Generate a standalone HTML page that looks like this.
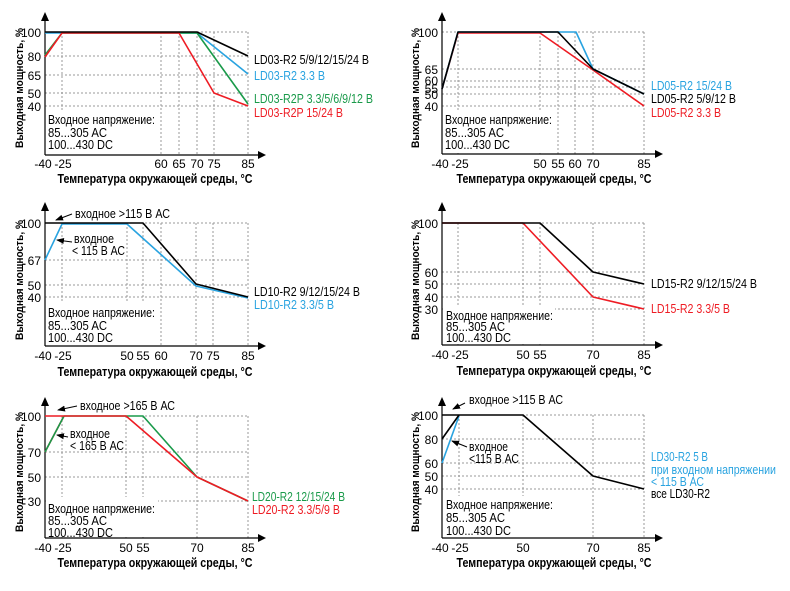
<!DOCTYPE html>
<html><head><meta charset="utf-8"><style>
html,body{margin:0;padding:0;background:#fff}
svg text{font-family:"Liberation Sans",Arial,sans-serif;font-size:12.5px}
.g{stroke:#999;stroke-width:1;stroke-dasharray:2,2;fill:none}
.ax{stroke:#000;stroke-width:1.2}
.l{fill:none;stroke-width:1.6;stroke-linejoin:round}
.yl{text-anchor:end;font-size:12px !important}
.xl{text-anchor:middle;font-size:12px !important}
.tt{text-anchor:middle;font-weight:bold}
.yt{text-anchor:middle;font-weight:bold;font-size:11px !important}
</style></head><body>
<svg width="790" height="586" viewBox="0 0 790 586" xmlns="http://www.w3.org/2000/svg">
<defs><marker id="ar" markerWidth="8" markerHeight="8" refX="7" refY="4" orient="auto"><path d="M0,1 L8,4 L0,7z" fill="#000"/></marker></defs>

<!-- Panel 1 -->
<g transform="translate(0,0)">
<path class="g" d="M45,32H248M45,56H248M45,75H248M45,93H248M45,106H248M62,32V155M161,32V155M179,32V155M197,32V155M214,32V155M248,32V155"/>
<rect x="46" y="112" width="112" height="42" fill="#fff"/>
<path class="ax" d="M45,155V20M45,155H260"/>
<path d="M41,21L45,12L49,21z M258,151L266,155L258,159z" fill="#000"/>
<polyline class="l" stroke="#29a3e0" points="45,33 197,33 248,74"/>
<polyline class="l" stroke="#1a9a4a" points="45,55 62,33 197,33 248,104"/>
<polyline class="l" stroke="#ee1c24" points="45,57 62,33 179,33 214,93 248,106"/>
<polyline class="l" stroke="#000" points="45,32 197,32 248,56"/>
<text class="yl" x="41" y="37">100</text><text class="yl" x="41" y="61">80</text><text class="yl" x="41" y="80">65</text><text class="yl" x="41" y="98">50</text><text class="yl" x="41" y="111">40</text>
<text class="xl" x="43" y="168">-40</text><text class="xl" x="63" y="168">-25</text><text class="xl" x="161" y="168">60</text><text class="xl" x="179" y="168">65</text><text class="xl" x="197" y="168">70</text><text class="xl" x="214" y="168">75</text><text class="xl" x="248" y="168">85</text>
<text class="tt" x="155" y="183" textLength="195" lengthAdjust="spacingAndGlyphs">Температура окружающей среды, °С</text>
<text class="yt" transform="translate(23,88) rotate(-90)" textLength="120" lengthAdjust="spacingAndGlyphs">Выходная мощность, %</text>
<text x="48" y="124" textLength="107" lengthAdjust="spacingAndGlyphs">Входное напряжение:</text><text x="48" y="137" textLength="59" lengthAdjust="spacingAndGlyphs">85...305  AC</text><text x="48" y="149" textLength="65" lengthAdjust="spacingAndGlyphs">100...430  DC</text>
<text x="254" y="64" textLength="115" lengthAdjust="spacingAndGlyphs">LD03-R2 5/9/12/15/24 В</text>
<text x="254" y="80" fill="#29a3e0" textLength="71" lengthAdjust="spacingAndGlyphs">LD03-R2 3.3 В</text>
<text x="254" y="103" fill="#1a9a4a" textLength="119" lengthAdjust="spacingAndGlyphs">LD03-R2P 3.3/5/6/9/12 В</text>
<text x="254" y="117" fill="#ee1c24" textLength="89" lengthAdjust="spacingAndGlyphs">LD03-R2P 15/24 В</text>
</g>

<!-- Panel 2 -->
<g transform="translate(395,0)">
<path class="g" d="M47,32H249M47,69H249M47,81H249M47,87H249M47,94H249M47,106H249M63,32V154M145,32V154M163,32V154M180,32V154M198,32V154M249,32V154"/>
<rect x="48" y="112" width="112" height="41" fill="#fff"/>
<path class="ax" d="M47,154V20M47,154H262"/>
<path d="M43,21L47,12L51,21z M260,150L268,154L260,158z" fill="#000"/>
<polyline class="l" stroke="#ee1c24" points="47,89 63,33 145,33 198,70 249,106"/>
<polyline class="l" stroke="#29a3e0" points="47,89 63,32 181,32 198,69 249,94"/>
<polyline class="l" stroke="#000" points="47,89 63,32 163,32 198,69 249,94"/>
<text class="yl" x="43" y="37">100</text><text class="yl" x="43" y="74">65</text><text class="yl" x="43" y="85">60</text><text class="yl" x="43" y="93">55</text><text class="yl" x="43" y="99">50</text><text class="yl" x="43" y="111">40</text>
<text class="xl" x="45" y="168">-40</text><text class="xl" x="65" y="168">-25</text><text class="xl" x="145" y="168">50</text><text class="xl" x="163" y="168">55</text><text class="xl" x="180" y="168">60</text><text class="xl" x="198" y="168">70</text><text class="xl" x="249" y="168">85</text>
<text class="tt" x="159" y="183" textLength="195" lengthAdjust="spacingAndGlyphs">Температура окружающей среды, °С</text>
<text class="yt" transform="translate(24,88) rotate(-90)" textLength="120" lengthAdjust="spacingAndGlyphs">Выходная мощность, %</text>
<text x="50" y="124" textLength="107" lengthAdjust="spacingAndGlyphs">Входное напряжение:</text><text x="50" y="137" textLength="59" lengthAdjust="spacingAndGlyphs">85...305  AC</text><text x="50" y="149" textLength="65" lengthAdjust="spacingAndGlyphs">100...430  DC</text>
<text x="256" y="90" fill="#29a3e0" textLength="81" lengthAdjust="spacingAndGlyphs">LD05-R2 15/24 В</text>
<text x="256" y="103" textLength="85" lengthAdjust="spacingAndGlyphs">LD05-R2 5/9/12 В</text>
<text x="256" y="117" fill="#ee1c24" textLength="70" lengthAdjust="spacingAndGlyphs">LD05-R2 3.3 В</text>
</g>

<!-- Panel 3 -->
<g transform="translate(0,190)">
<path class="g" d="M45,33H248M45,70H248M45,95H248M45,107H248M62,33V156M127,33V156M143,33V156M161,33V156M196,33V156M213,33V156M248,33V156"/>
<rect x="46" y="113" width="112" height="42" fill="#fff"/>
<path class="ax" d="M45,156V20M45,156H260"/>
<path d="M41,21L45,12L49,21z M258,152L266,156L258,160z" fill="#000"/>
<polyline class="l" stroke="#29a3e0" points="45,70 62,34 127,34 196,96 248,108"/>
<polyline class="l" stroke="#000" points="45,33 143,33 196,94 248,107"/>
<line x1="72" y1="24" x2="56" y2="30" stroke="#000" marker-end="url(#ar)"/>
<line x1="72" y1="52" x2="57" y2="50" stroke="#000" marker-end="url(#ar)"/>
<text x="75" y="28" textLength="95" lengthAdjust="spacingAndGlyphs">входное &gt;115 В АС</text>
<text x="74" y="53" textLength="40" lengthAdjust="spacingAndGlyphs">входное</text><text x="72" y="65" textLength="53" lengthAdjust="spacingAndGlyphs">&lt; 115 В АС</text>
<text class="yl" x="41" y="38">100</text><text class="yl" x="41" y="75">67</text><text class="yl" x="41" y="100">50</text><text class="yl" x="41" y="112">40</text>
<text class="xl" x="43" y="170">-40</text><text class="xl" x="63" y="170">-25</text><text class="xl" x="127" y="170">50</text><text class="xl" x="143" y="170">55</text><text class="xl" x="161" y="170">60</text><text class="xl" x="196" y="170">70</text><text class="xl" x="213" y="170">75</text><text class="xl" x="248" y="170">85</text>
<text class="tt" x="155" y="186" textLength="195" lengthAdjust="spacingAndGlyphs">Температура окружающей среды, °С</text>
<text class="yt" transform="translate(23,90) rotate(-90)" textLength="120" lengthAdjust="spacingAndGlyphs">Выходная мощность, %</text>
<text x="48" y="127" textLength="107" lengthAdjust="spacingAndGlyphs">Входное напряжение:</text><text x="48" y="140" textLength="59" lengthAdjust="spacingAndGlyphs">85...305  AC</text><text x="48" y="152" textLength="65" lengthAdjust="spacingAndGlyphs">100...430  DC</text>
<text x="254" y="106" textLength="106" lengthAdjust="spacingAndGlyphs">LD10-R2 9/12/15/24 В</text>
<text x="254" y="119" fill="#29a3e0" textLength="80" lengthAdjust="spacingAndGlyphs">LD10-R2 3.3/5 В</text>
</g>

<!-- Panel 4 -->
<g transform="translate(395,190)">
<path class="g" d="M47,33H249M47,82H249M47,94H249M47,107H249M47,119H249M63,33V155M128,33V155M145,33V155M198,33V155M249,33V155"/>
<rect x="48" y="117" width="112" height="37" fill="#fff"/>
<path class="ax" d="M47,155V20M47,155H262"/>
<path d="M43,21L47,12L51,21z M260,151L268,155L260,159z" fill="#000"/>
<polyline class="l" stroke="#ee1c24" points="47,33 128,33 198,107 249,119"/>
<polyline class="l" stroke="#000" points="47,33 145,33 198,82 249,94"/>
<text class="yl" x="43" y="38">100</text><text class="yl" x="43" y="87">60</text><text class="yl" x="43" y="99">50</text><text class="yl" x="43" y="112">40</text><text class="yl" x="43" y="124">30</text>
<text class="xl" x="45" y="169">-40</text><text class="xl" x="65" y="169">-25</text><text class="xl" x="128" y="169">50</text><text class="xl" x="145" y="169">55</text><text class="xl" x="198" y="169">70</text><text class="xl" x="249" y="169">85</text>
<text class="tt" x="159" y="185" textLength="195" lengthAdjust="spacingAndGlyphs">Температура окружающей среды, °С</text>
<text class="yt" transform="translate(24,90) rotate(-90)" textLength="120" lengthAdjust="spacingAndGlyphs">Выходная мощность, %</text>
<text x="51" y="130" textLength="107" lengthAdjust="spacingAndGlyphs">Входное напряжение:</text><text x="51" y="141" textLength="59" lengthAdjust="spacingAndGlyphs">85...305  AC</text><text x="51" y="152" textLength="65" lengthAdjust="spacingAndGlyphs">100...430  DC</text>
<text x="256" y="98" textLength="106" lengthAdjust="spacingAndGlyphs">LD15-R2 9/12/15/24 В</text>
<text x="256" y="123" fill="#ee1c24" textLength="79" lengthAdjust="spacingAndGlyphs">LD15-R2 3.3/5 В</text>
</g>

<!-- Panel 5 -->
<g transform="translate(0,385)">
<path class="g" d="M45,31H248M45,67H248M45,92H248M45,116H248M62,31V153M126,31V153M143,31V153M197,31V153M248,31V153"/>
<rect x="46" y="112" width="112" height="40" fill="#fff"/>
<path class="ax" d="M45,153V20M45,153H260"/>
<path d="M41,21L45,12L49,21z M258,149L266,153L258,157z" fill="#000"/>
<polyline class="l" stroke="#ee1c24" points="45,67 64,31"/>
<polyline class="l" stroke="#1a9a4a" points="45,67 64,31 143,31 197,92 248,116"/>
<polyline class="l" stroke="#ee1c24" points="45,31 126,31 197,92 248,116"/>
<line x1="77" y1="21" x2="58" y2="25" stroke="#000" marker-end="url(#ar)"/>
<line x1="68" y1="52" x2="57" y2="50" stroke="#000" marker-end="url(#ar)"/>
<text x="80" y="25" textLength="95" lengthAdjust="spacingAndGlyphs">входное &gt;165 В АС</text>
<text x="70" y="53" textLength="40" lengthAdjust="spacingAndGlyphs">входное</text><text x="70" y="65" textLength="54" lengthAdjust="spacingAndGlyphs">&lt; 165 В АС</text>
<text class="yl" x="41" y="36">100</text><text class="yl" x="41" y="72">70</text><text class="yl" x="41" y="97">50</text><text class="yl" x="41" y="121">30</text>
<text class="xl" x="43" y="167">-40</text><text class="xl" x="63" y="167">-25</text><text class="xl" x="126" y="167">50</text><text class="xl" x="143" y="167">55</text><text class="xl" x="197" y="167">70</text><text class="xl" x="248" y="167">85</text>
<text class="tt" x="155" y="182" textLength="195" lengthAdjust="spacingAndGlyphs">Температура окружающей среды, °С</text>
<text class="yt" transform="translate(23,87) rotate(-90)" textLength="120" lengthAdjust="spacingAndGlyphs">Выходная мощность, %</text>
<text x="48" y="128" textLength="107" lengthAdjust="spacingAndGlyphs">Входное напряжение:</text><text x="48" y="140" textLength="59" lengthAdjust="spacingAndGlyphs">85...305  AC</text><text x="48" y="152" textLength="65" lengthAdjust="spacingAndGlyphs">100...430  DC</text>
<text x="252" y="116" fill="#1a9a4a" textLength="93" lengthAdjust="spacingAndGlyphs">LD20-R2 12/15/24 В</text>
<text x="252" y="129" fill="#ee1c24" textLength="88" lengthAdjust="spacingAndGlyphs">LD20-R2 3.3/5/9 В</text>
</g>

<!-- Panel 6 -->
<g transform="translate(395,385)">
<path class="g" d="M47,30H249M47,54H249M47,78H249M47,91H249M47,104H249M64,30V153M128,30V153M198,30V153M249,30V153"/>
<rect x="48" y="111" width="112" height="41" fill="#fff"/>
<path class="ax" d="M47,153V20M47,153H262"/>
<path d="M43,21L47,12L51,21z M260,149L268,153L260,157z" fill="#000"/>
<polyline class="l" stroke="#29a3e0" points="47,78 64,31"/>
<polyline class="l" stroke="#000" points="47,54 64,30"/>
<polyline class="l" stroke="#000" points="47,30 128,30 198,91 249,104"/>
<line x1="70" y1="18" x2="58" y2="24" stroke="#000" marker-end="url(#ar)"/>
<line x1="72" y1="62" x2="57" y2="56" stroke="#000" marker-end="url(#ar)"/>
<text x="74" y="19" textLength="94" lengthAdjust="spacingAndGlyphs">входное &gt;115 В АС</text>
<text x="74" y="66" textLength="39" lengthAdjust="spacingAndGlyphs">входное</text><text x="74" y="78" textLength="50" lengthAdjust="spacingAndGlyphs">&lt;115 В АС</text>
<text class="yl" x="43" y="35">100</text><text class="yl" x="43" y="59">80</text><text class="yl" x="43" y="83">60</text><text class="yl" x="43" y="96">50</text><text class="yl" x="43" y="109">40</text>
<text class="xl" x="45" y="167">-40</text><text class="xl" x="65" y="167">-25</text><text class="xl" x="128" y="167">50</text><text class="xl" x="198" y="167">70</text><text class="xl" x="249" y="167">85</text>
<text class="tt" x="159" y="182" textLength="195" lengthAdjust="spacingAndGlyphs">Температура окружающей среды, °С</text>
<text class="yt" transform="translate(24,87) rotate(-90)" textLength="120" lengthAdjust="spacingAndGlyphs">Выходная мощность, %</text>
<text x="51" y="124" textLength="107" lengthAdjust="spacingAndGlyphs">Входное напряжение:</text><text x="51" y="137" textLength="59" lengthAdjust="spacingAndGlyphs">85...305  AC</text><text x="51" y="150" textLength="65" lengthAdjust="spacingAndGlyphs">100...430  DC</text>
<text x="256" y="76" fill="#29a3e0" textLength="57" lengthAdjust="spacingAndGlyphs">LD30-R2 5 В</text>
<text x="256" y="89" fill="#29a3e0" textLength="125" lengthAdjust="spacingAndGlyphs">при входном напряжении</text>
<text x="256" y="101" fill="#29a3e0" textLength="53" lengthAdjust="spacingAndGlyphs">&lt; 115 В АС</text>
<text x="256" y="113" textLength="59" lengthAdjust="spacingAndGlyphs">все LD30-R2</text>
</g>
</svg>
</body></html>
